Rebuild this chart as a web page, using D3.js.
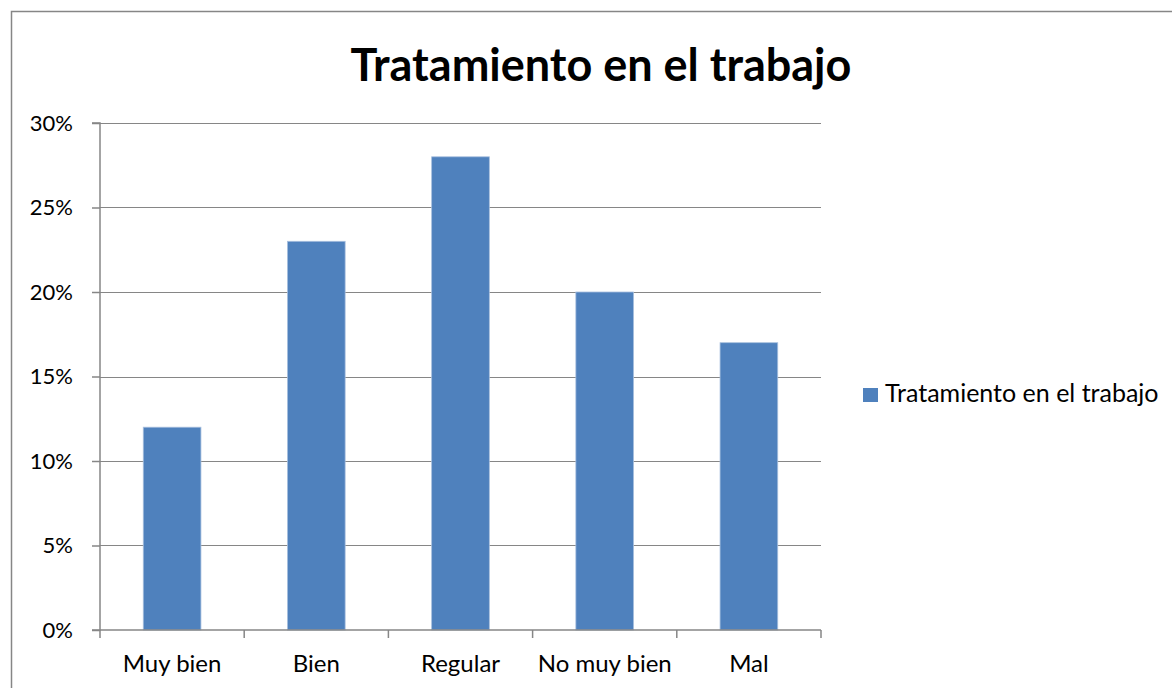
<!DOCTYPE html>
<html>
<head>
<meta charset="utf-8">
<script src="https://cdn.jsdelivr.net/npm/d3@7"></script>
<style>
  body { margin: 0; background: #fff; }
  svg text { font-family: Lato, "Open Sans", sans-serif; fill: #000; }
</style>
</head>
<body>
<div class="chart"></div>
<script>
const categories = ['Muy bien', 'Bien', 'Regular', 'No muy bien', 'Mal'];
const values = [0.12, 0.23, 0.28, 0.20, 0.17];
const yTicks = [0, 0.05, 0.10, 0.15, 0.20, 0.25, 0.30];
const seriesName = 'Tratamiento en el trabajo';
const title = 'Tratamiento en el trabajo';

const width = 1172;
const height = 688;
const margin = { top: 123, right: 351, bottom: 58, left: 100 };
const innerW = width - margin.left - margin.right;
const innerH = height - margin.top - margin.bottom;
const gridColor = '#868686';

const svg = d3.select('.chart').append('svg')
  .attr('width', width)
  .attr('height', height);

// outer chart frame
svg.append('rect')
  .attr('x', 11.5).attr('y', 11.5)
  .attr('width', 1200).attr('height', 700)
  .attr('fill', 'none')
  .attr('stroke', gridColor)
  .attr('stroke-width', 1.5);

svg.append('text')
  .attr('x', 601).attr('y', 81)
  .attr('text-anchor', 'middle')
  .attr('font-size', 45)
  .attr('font-weight', 'bold')
  .text(title);

const g = svg.append('g')
  .attr('transform', `translate(${margin.left}, ${margin.top})`);

const x = d3.scaleBand().domain(categories).range([0, innerW]).paddingInner(0.6).paddingOuter(0.3);
const xb = d3.scaleBand().domain(categories).range([0, innerW]);
const y = d3.scaleLinear().domain([0, 0.3]).range([innerH, 0]);

// gridlines
g.selectAll('.grid')
  .data(yTicks.slice(1))
  .enter().append('line')
  .attr('class', 'grid')
  .attr('x1', 0).attr('x2', innerW)
  .attr('y1', d => Math.round(y(d)) + 0.5)
  .attr('y2', d => Math.round(y(d)) + 0.5)
  .attr('stroke', gridColor)
  .attr('stroke-width', 1.2);

// bars
g.selectAll('.bar')
  .data(values)
  .enter().append('rect')
  .attr('class', 'bar')
  .attr('x', (d, i) => x(categories[i]))
  .attr('width', x.bandwidth())
  .attr('y', d => y(d))
  .attr('height', d => innerH - y(d))
  .attr('fill', '#4F81BD')
  .attr('stroke', '#A7BFDE')
  .attr('stroke-width', 0.8);

// y axis
const yAxis = g.append('g')
  .call(d3.axisLeft(y).tickValues(yTicks).tickFormat(d3.format('.0%')).tickSize(8).tickPadding(6));
yAxis.select('.domain').attr('stroke', gridColor).attr('stroke-width', 1.5).attr('d', `M-8,${innerH}H0V0H-8`);
yAxis.selectAll('.tick line').attr('stroke', gridColor).attr('stroke-width', 1.5);
yAxis.selectAll('.tick text').attr('font-size', 22).attr('font-family', 'Lato, sans-serif').attr('dx', -13);

// x axis
const xAxis = g.append('g')
  .attr('transform', `translate(0, ${innerH})`)
  .call(d3.axisBottom(xb).tickSize(0).tickPadding(25));
xAxis.select('.domain').attr('stroke', gridColor).attr('stroke-width', 1.5).attr('d', `M0,0H${innerW}`);
xAxis.selectAll('.tick text').attr('font-size', 24).attr('font-family', 'Lato, sans-serif');
g.selectAll('.xtick')
  .data(d3.range(categories.length + 1))
  .enter().append('line')
  .attr('class', 'xtick')
  .attr('x1', i => i * xb.step()).attr('x2', i => i * xb.step())
  .attr('y1', innerH).attr('y2', innerH + 8)
  .attr('stroke', gridColor)
  .attr('stroke-width', 1.5);

// legend
const legend = svg.append('g').attr('transform', 'translate(863, 388)');
legend.append('rect')
  .attr('width', 15).attr('height', 14)
  .attr('fill', '#4F81BD');
legend.append('text')
  .attr('x', 22).attr('y', 14)
  .attr('font-size', 25)
  .text(seriesName);
</script>
</body>
</html>
